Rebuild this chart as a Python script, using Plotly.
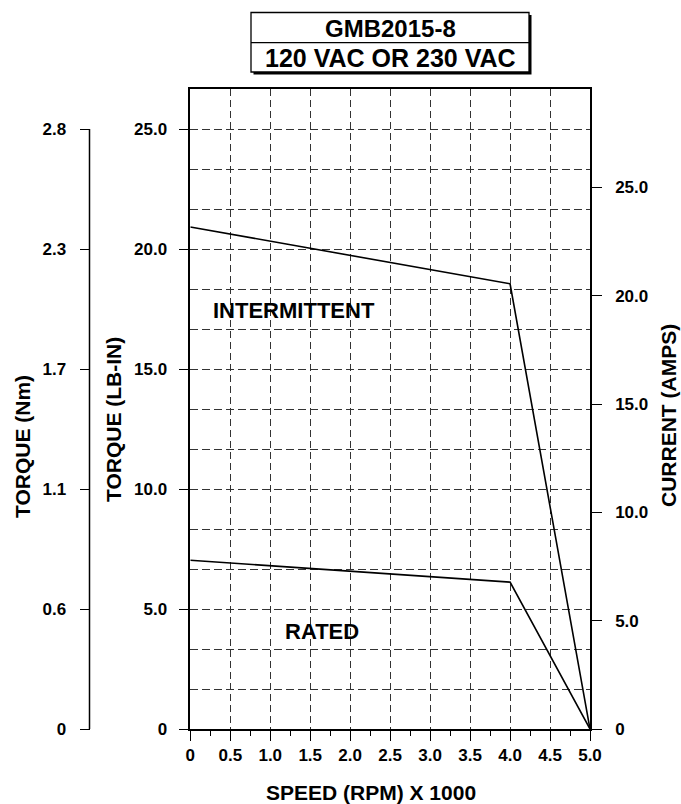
import plotly.graph_objects as go

# ---- data ----
speed_krpm = [0, 4.0, 5.0]
intermittent_lbin = [20.92, 18.55, 0.0]
rated_lbin = [7.03, 6.12, 0.0]

x_ticks = [0, 0.5, 1.0, 1.5, 2.0, 2.5, 3.0, 3.5, 4.0, 4.5, 5.0]
x_ticktext = ["0", "0.5", "1.0", "1.5", "2.0", "2.5", "3.0", "3.5", "4.0", "4.5", "5.0"]
lbin_ticks = [0, 5, 10, 15, 20, 25]
lbin_ticktext = ["0", "5.0", "10.0", "15.0", "20.0", "25.0"]
nm_ticktext = ["0", "0.6", "1.1", "1.7", "2.3", "2.8"]
amps_ticks = [0, 5, 10, 15, 20, 25]
amps_ticktext = ["0", "5.0", "10.0", "15.0", "20.0", "25.0"]

Y_MAX = 26.667
Y2_MAX = 29.55

FONT = "Liberation Sans, Arial, sans-serif"
GRID = "#333333"

fig = go.Figure()
fig.add_trace(go.Scatter(x=speed_krpm, y=intermittent_lbin, mode="lines",
                         line=dict(color="black", width=1.6), showlegend=False))
fig.add_trace(go.Scatter(x=speed_krpm, y=rated_lbin, mode="lines",
                         line=dict(color="black", width=1.6), showlegend=False))

W, H = 681, 804
ML, MR, MT, MB = 40, 91, 89, 75
PW = W - ML - MR
PH = H - MT - MB


def px(xp):  # page pixel -> paper
    return (xp - ML) / PW


def py(yp):
    return (H - MB - yp) / PH


tickfont = dict(family=FONT, size=17, color="black", weight="bold")

fig.update_layout(
    width=W, height=H,
    margin=dict(l=ML, r=MR, t=MT, b=MB),
    paper_bgcolor="white", plot_bgcolor="white",
    font=dict(family=FONT, color="black"),
    xaxis=dict(
        domain=[px(190.3), 1.0], range=[0, 5],
        tickmode="array", tickvals=x_ticks, ticktext=x_ticktext,
        ticks="outside", ticklen=10, tickwidth=1.3, tickcolor="black",
        showline=True, linecolor="black", linewidth=1.5, mirror=True,
        showgrid=True, gridcolor=GRID, gridwidth=1.3, griddash="7px,4px",
        tickfont=tickfont, ticklabelstandoff=0,
        minor=dict(dtick=0.25, tick0=0, ticks="outside", ticklen=5,
                   tickcolor="black", tickwidth=1.3, showgrid=False),
        zeroline=False,
    ),
    yaxis=dict(
        range=[0, Y_MAX],
        tickmode="array", tickvals=lbin_ticks, ticktext=lbin_ticktext,
        ticks="outside", ticklen=10, tickwidth=1.3, tickcolor="black",
        showline=True, linecolor="black", linewidth=1.5, mirror=True,
        showgrid=True, gridcolor=GRID, gridwidth=1.3, griddash="8px,4px",
        tickfont=tickfont, ticklabelstandoff=8,
        minor=dict(dtick=5/3, tick0=0, ticklen=0, showgrid=True,
                   gridcolor=GRID, gridwidth=1.3, griddash="8px,4px"),
        zeroline=False,
    ),
    yaxis2=dict(
        overlaying="y", side="right", anchor="x",
        range=[0, Y2_MAX],
        tickmode="array", tickvals=amps_ticks, ticktext=amps_ticktext,
        ticks="outside", ticklen=10, tickwidth=1.3, tickcolor="black",
        showline=True, linecolor="black", linewidth=1.5,
        showgrid=False, zeroline=False,
        tickfont=tickfont, ticklabelstandoff=10,
    ),
    yaxis3=dict(
        overlaying="y", side="left", anchor="free", position=px(89.5),
        range=[0, Y_MAX],
        tickmode="array", tickvals=lbin_ticks, ticktext=nm_ticktext,
        ticks="outside", ticklen=10, tickwidth=1.3, tickcolor="black",
        showline=False, showgrid=False, zeroline=False,
        tickfont=tickfont, ticklabelstandoff=10,
    ),
)

# references to y2/y3 so those axes get drawn
fig.add_trace(go.Scatter(x=[None], y=[None], yaxis="y2", showlegend=False, hoverinfo="skip"))
fig.add_trace(go.Scatter(x=[None], y=[None], yaxis="y3", showlegend=False, hoverinfo="skip"))

shapes = []
# far-left Nm axis line
shapes.append(dict(type="line", xref="paper", yref="y", x0=px(89.5), x1=px(89.5),
                   y0=0, y1=25, line=dict(color="black", width=1.5)))
# title box with shadow
bx0, bx1, by0, by1 = px(251), px(529), py(12.5), py(72)
sh = 2.5
shapes.append(dict(type="rect", xref="paper", yref="paper",
                   x0=px(251 + sh), x1=px(529 + sh), y0=py(12.5 + sh), y1=py(72 + sh),
                   line=dict(width=0), fillcolor="black", layer="below"))
shapes.append(dict(type="rect", xref="paper", yref="paper",
                   x0=bx0, x1=bx1, y0=by0, y1=by1,
                   line=dict(color="black", width=1.3), fillcolor="white", layer="below"))
shapes.append(dict(type="line", xref="paper", yref="paper",
                   x0=bx0, x1=bx1, y0=py(42.7), y1=py(42.7),
                   line=dict(color="black", width=1.3)))
fig.update_layout(shapes=shapes)


def label(text, x, y, size, angle=0, ref="paper"):
    return dict(text="<b>%s</b>" % text, xref=ref, yref=ref, x=x, y=y,
                xanchor="center", yanchor="middle", showarrow=False,
                textangle=angle, font=dict(family=FONT, size=size, color="black"))


ann = [
    label("GMB2015-8", px(390), py(28), 24),
    label("120 VAC OR 230 VAC", px(390), py(58), 25),
    label("SPEED (RPM) X 1000", px(371), py(792), 21),
    label("TORQUE (LB-IN)", px(113), py(420), 21, -90),
    label("TORQUE (Nm)", px(22), py(447), 21, -90),
    label("CURRENT (AMPS)", px(668), py(416), 21, -90),
]
ann.append(dict(text="<b>INTERMITTENT</b>", xref="x", yref="y",
                x=1.30, y=17.43, showarrow=False, xanchor="center", yanchor="middle",
                font=dict(family=FONT, size=22, color="black")))
ann.append(dict(text="<b>RATED</b>", xref="x", yref="y",
                x=1.65, y=4.05, showarrow=False, xanchor="center", yanchor="middle",
                font=dict(family=FONT, size=22, color="black")))
fig.update_layout(annotations=ann)

fig.write_html(
    "out.html",
    config={"displayModeBar": False},
    post_script="document.body.style.margin='0';document.body.style.overflow='hidden';",
)
